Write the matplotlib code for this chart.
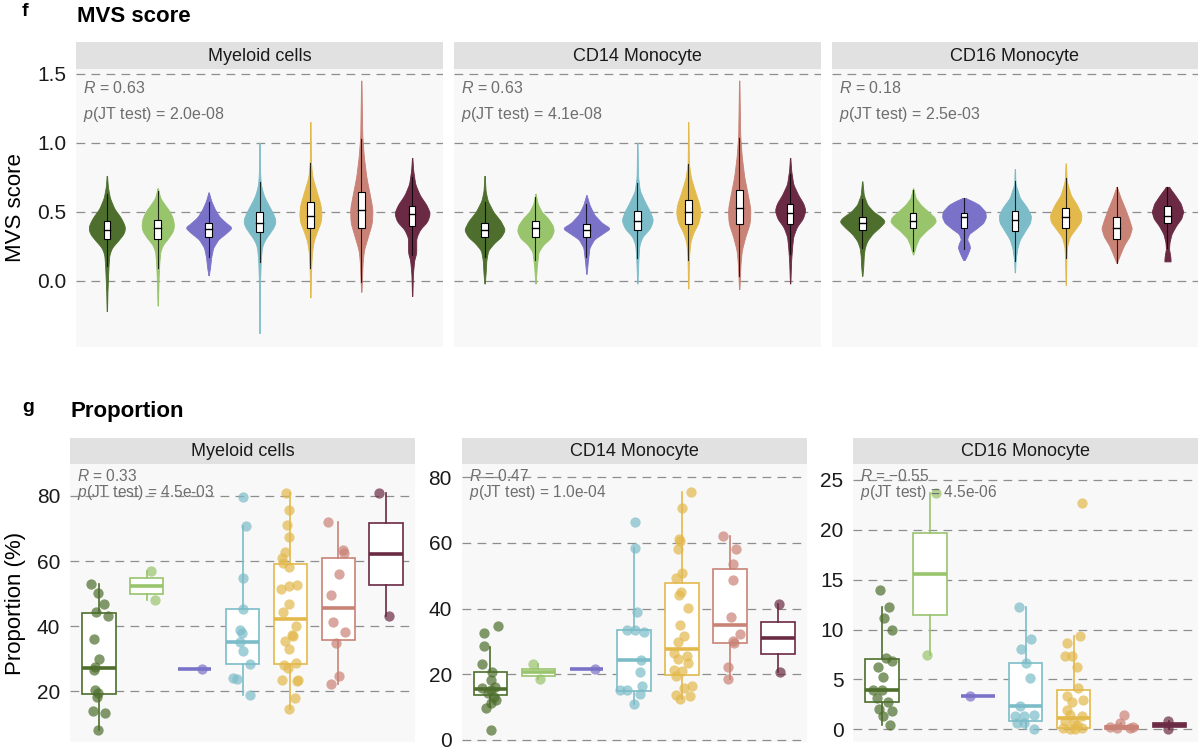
import numpy as np
import matplotlib
matplotlib.use("Agg")
import matplotlib.pyplot as plt
from matplotlib.patches import Rectangle

plt.rcParams['font.family'] = ['Liberation Sans', 'DejaVu Sans']
plt.rcParams['mathtext.fontset'] = 'custom'
plt.rcParams['mathtext.rm'] = 'Liberation Sans'
plt.rcParams['mathtext.it'] = 'Liberation Sans:italic'
plt.rcParams['mathtext.bf'] = 'Liberation Sans:bold'

# ---------------- data ----------------
panels = ["Myeloid cells", "CD14 Monocyte", "CD16 Monocyte"]
group_colors = ["#4d6e2c", "#98c46c", "#7a72c8", "#7bbcc8",
                "#e3b94c", "#c98276", "#6a2a43"]

# MVS score violins: (y, half width) knots per group
mvs_myeloid_knots = [
    [(0.76, .004), (0.68, .02), (0.60, .06), (0.52, .15), (0.46, .27), (0.41, .34), (0.38, .36),
     (0.34, .33), (0.29, .22), (0.24, .10), (0.19, .05), (0.12, .035), (0.04, .025), (-0.08, .012), (-0.22, .004)],
    [(0.67, .004), (0.60, .05), (0.55, .14), (0.50, .24), (0.45, .30), (0.40, .32), (0.36, .30),
     (0.31, .21), (0.26, .10), (0.21, .05), (0.12, .03), (0.02, .018), (-0.18, .004)],
    [(0.64, .004), (0.58, .05), (0.52, .12), (0.46, .22), (0.42, .34), (0.385, .46), (0.35, .36),
     (0.30, .19), (0.24, .09), (0.17, .05), (0.10, .03), (0.04, .005)],
    [(1.00, .004), (0.80, .01), (0.70, .025), (0.62, .08), (0.56, .16), (0.50, .25), (0.44, .32),
     (0.40, .30), (0.35, .21), (0.30, .11), (0.25, .05), (0.15, .025), (0.0, .012), (-0.38, .004)],
    [(1.15, .004), (0.85, .012), (0.75, .04), (0.65, .12), (0.55, .20), (0.48, .22), (0.42, .20),
     (0.35, .12), (0.28, .06), (0.20, .03), (0.10, .016), (-0.12, .004)],
    [(1.45, .004), (1.05, .02), (0.90, .05), (0.75, .10), (0.62, .17), (0.52, .22), (0.42, .21),
     (0.32, .13), (0.22, .05), (0.12, .025), (0.0, .014), (-0.08, .004)],
    [(0.89, .004), (0.80, .02), (0.70, .06), (0.62, .15), (0.55, .28), (0.49, .35), (0.43, .30),
     (0.37, .15), (0.31, .08), (0.25, .08), (0.20, .08), (0.15, .04), (0.05, .015), (-0.11, .004)],
]
mvs_cd14_knots = [
    [(0.76, .004), (0.65, .02), (0.58, .06), (0.50, .17), (0.43, .32), (0.37, .40), (0.32, .33),
     (0.27, .18), (0.22, .07), (0.15, .035), (0.05, .02), (-0.02, .004)],
    [(0.63, .004), (0.56, .04), (0.50, .12), (0.45, .25), (0.40, .34), (0.36, .36), (0.31, .30),
     (0.26, .15), (0.21, .06), (0.10, .025), (-0.02, .004)],
    [(0.62, .004), (0.55, .06), (0.48, .15), (0.42, .30), (0.38, .47), (0.35, .35), (0.30, .15),
     (0.24, .06), (0.15, .03), (0.05, .004)],
    [(1.00, .004), (0.75, .015), (0.65, .05), (0.57, .15), (0.50, .25), (0.44, .31), (0.38, .25),
     (0.32, .10), (0.26, .04), (0.15, .02), (-0.02, .004)],
    [(1.15, .004), (0.85, .012), (0.75, .05), (0.65, .13), (0.55, .22), (0.49, .24), (0.42, .20),
     (0.35, .10), (0.28, .04), (0.18, .016), (-0.055, .004)],
    [(1.45, .004), (1.05, .02), (0.90, .05), (0.75, .10), (0.62, .17), (0.52, .22), (0.42, .21),
     (0.32, .12), (0.22, .05), (0.12, .025), (0.0, .012), (-0.06, .004)],
    [(0.89, .004), (0.80, .02), (0.70, .06), (0.62, .16), (0.56, .26), (0.51, .30), (0.45, .25),
     (0.39, .13), (0.32, .06), (0.25, .04), (0.15, .02), (-0.02, .004)],
]
mvs_cd16_knots = [
    [(0.72, .004), (0.62, .03), (0.55, .10), (0.50, .22), (0.46, .38), (0.43, .45), (0.39, .35),
     (0.34, .20), (0.29, .10), (0.24, .05), (0.18, .03), (0.10, .02), (0.035, .004)],
    [(0.67, .004), (0.60, .05), (0.55, .15), (0.50, .30), (0.46, .42), (0.43, .45), (0.40, .38),
     (0.36, .25), (0.31, .12), (0.26, .06), (0.22, .03), (0.19, .004)],
    [(0.60, .02), (0.58, .15), (0.55, .30), (0.50, .42), (0.46, .43), (0.42, .38), (0.38, .25),
     (0.34, .10), (0.30, .06), (0.27, .10), (0.24, .12), (0.20, .08), (0.16, .03), (0.15, .01)],
    [(0.81, .004), (0.70, .012), (0.60, .10), (0.53, .24), (0.47, .32), (0.42, .30), (0.36, .20),
     (0.30, .10), (0.24, .05), (0.15, .015), (0.06, .004)],
    [(0.85, .004), (0.72, .02), (0.62, .10), (0.55, .22), (0.48, .31), (0.43, .30), (0.38, .20),
     (0.32, .08), (0.25, .025), (0.15, .012), (-0.03, .004)],
    [(0.68, .004), (0.60, .08), (0.52, .17), (0.45, .24), (0.38, .30), (0.32, .25), (0.26, .15),
     (0.20, .08), (0.13, .004)],
    [(0.68, .03), (0.62, .15), (0.56, .26), (0.50, .31), (0.45, .27), (0.40, .17), (0.34, .08),
     (0.28, .04), (0.23, .03), (0.19, .05), (0.16, .06), (0.14, .06)],
]
# (q1, median, q3) of the inner boxes
mvs_myeloid_box = [(0.30, 0.365, 0.43), (0.30, 0.38, 0.44), (0.32, 0.375, 0.42), (0.35, 0.42, 0.495),
                   (0.38, 0.47, 0.57), (0.38, 0.51, 0.64), (0.40, 0.48, 0.54)]
mvs_cd14_box = [(0.32, 0.37, 0.42), (0.32, 0.38, 0.435), (0.315, 0.365, 0.41), (0.37, 0.435, 0.505),
                (0.41, 0.495, 0.585), (0.41, 0.53, 0.66), (0.41, 0.49, 0.555)]
mvs_cd16_box = [(0.37, 0.42, 0.46), (0.38, 0.435, 0.49), (0.385, 0.46, 0.49), (0.36, 0.44, 0.505),
                (0.385, 0.46, 0.53), (0.30, 0.38, 0.46), (0.42, 0.47, 0.54)]
mvs_stats = [("0.63", "2.0e-08"), ("0.63", "4.1e-08"), ("0.18", "2.5e-03")]

# Proportion (%) per sample, with the jitter offsets seen in the figure
prop_myeloid = [
    [53.1, 50.1, 46.9, 44.4, 43.0, 36.2, 29.8, 27.6, 26.5, 20.3, 19.5, 18.3, 13.8, 13.2, 8.1],
    [56.9, 48.0],
    [26.7],
    [79.8, 70.8, 54.9, 45.4, 38.9, 38.0, 35.1, 32.4, 28.5, 24.2, 23.7, 18.8],
    [81.0, 75.7, 71.1, 67.3, 62.9, 60.8, 59.5, 58.3, 52.4, 52.8, 51.4, 46.8, 44.4, 40.1, 37.4, 37.0,
     35.4, 32.9, 28.7, 28.0, 27.3, 23.6, 23.4, 23.1, 18.0, 14.7],
    [71.9, 63.4, 62.4, 55.9, 49.7, 41.3, 38.2, 34.7, 24.6, 22.2],
    [81.0, 43.2],
]
jit_myeloid = [
    [-0.17, -0.02, 0.10, -0.06, 0.19, -0.10, 0.01, -0.08, -0.09, -0.08, -0.02, -0.04, -0.11, 0.13, -0.02],
    [0.08, 0.18],
    [0.15],
    [0.0, 0.08, 0.0, 0.0, -0.05, -0.01, -0.05, 0.0, 0.15, -0.19, -0.12, 0.16],
    [-0.10, -0.04, -0.08, -0.04, -0.11, -0.18, -0.15, -0.03, -0.04, 0.13, -0.20, -0.03, -0.15, 0.11,
     0.04, 0.06, -0.11, -0.04, 0.11, -0.13, -0.05, 0.15, -0.18, 0.13, 0.10, -0.04],
    [-0.21, 0.09, 0.11, 0.02, -0.15, -0.11, 0.14, -0.05, 0.02, -0.15],
    [-0.15, 0.05],
]
prop_cd14 = [
    [34.8, 32.5, 28.5, 23.0, 20.6, 18.3, 16.2, 15.7, 15.2, 14.2, 13.2, 12.2, 11.2, 9.8, 3.1],
    [23.0, 18.5],
    [21.5],
    [66.5, 58.6, 38.9, 33.5, 33.4, 32.8, 24.4, 20.7, 16.4, 15.2, 15.2, 14.0, 10.9],
    [75.4, 70.7, 61.1, 60.6, 58.2, 50.9, 49.2, 45.1, 44.1, 40.3, 35.0, 31.8, 29.7, 26.4, 25.7, 24.6,
     23.3, 21.3, 21.1, 19.5, 16.5, 15.7, 13.7, 13.5, 12.4],
    [62.1, 58.2, 53.5, 48.7, 37.5, 32.3, 30.2, 29.4, 22.3, 18.6],
    [41.4, 20.8],
]
jit_cd14 = [
    [0.15, -0.13, -0.14, -0.17, 0.04, 0.01, 0.09, -0.17, 0.01, -0.06, 0.08, 0.11, 0.01, -0.09, 0.01],
    [-0.12, 0.03],
    [0.18],
    [0.02, 0.01, 0.05, 0.01, -0.15, 0.21, 0.14, 0.13, 0.17, -0.30, -0.14, 0.12, 0.0],
    [0.18, -0.01, -0.06, -0.04, -0.08, -0.01, -0.13, -0.03, -0.06, 0.13, -0.04, 0.03, -0.08, -0.17,
     0.10, -0.08, 0.13, -0.17, -0.01, -0.12, 0.20, 0.03, -0.12, 0.16, -0.04],
    [-0.14, 0.12, 0.06, 0.07, 0.02, 0.20, 0.06, 0.09, -0.05, -0.04],
    [0.03, 0.05],
]
prop_cd16 = [
    [14.0, 12.3, 11.2, 10.0, 7.2, 6.9, 6.2, 5.2, 3.9, 3.9, 3.1, 2.7, 2.0, 1.8, 1.3, 0.4],
    [23.7, 7.5],
    [3.3],
    [12.3, 9.1, 8.1, 6.6, 5.1, 2.3, 1.4, 1.3, 1.3, 0.6, 0.6, 0.0],
    [22.7, 9.4, 8.7, 7.4, 7.4, 6.2, 4.1, 3.3, 2.9, 2.7, 1.9, 1.4, 1.3, 0.8, 0.7, 0.4, 0.1, 0.05, 0.1, 0.0],
    [1.4, 0.6, 0.2, 0.1, 0.1, 0.2],
    [0.8, 0.0],
]
jit_cd16 = [
    [-0.05, 0.14, 0.05, 0.21, 0.09, 0.21, -0.08, 0.03, -0.18, 0.0, -0.10, 0.13, -0.07, 0.21, 0.01, 0.16],
    [0.13, -0.06],
    [-0.17],
    [-0.13, 0.12, -0.10, 0.01, 0.10, -0.11, 0.18, -0.04, -0.22, -0.04, -0.18, 0.18],
    [0.18, 0.14, -0.13, -0.17, -0.03, 0.07, 0.10, -0.13, 0.19, -0.03, -0.14, -0.07, 0.18, -0.17, 0.0,
     0.08, -0.21, -0.07, 0.18, 0.04],
    [0.06, -0.03, -0.23, 0.18, -0.09, 0.25],
    [-0.02, -0.02],
]
# box stats (whisker low, q1, median, q3, whisker high)
box_myeloid = [(8.1, 19.1, 27.2, 44.1, 53.1), (48.0, 49.9, 52.3, 54.7, 56.9), (26.7, 26.7, 26.7, 26.7, 26.7),
               (18.8, 28.5, 35.0, 45.4, 70.8), (14.7, 28.3, 42.2, 59.1, 81.0), (22.2, 35.7, 45.6, 60.8, 71.9),
               (43.2, 52.6, 62.1, 71.6, 81.0)]
box_cd14 = [(9.9, 13.6, 15.5, 20.6, 28.4), (18.5, 19.6, 20.8, 21.7, 23.0), (21.5, 21.5, 21.5, 21.5, 21.5),
            (10.9, 14.9, 24.4, 33.5, 58.6), (12.4, 19.8, 27.7, 47.9, 75.4), (18.6, 29.6, 35.0, 52.1, 62.1),
            (20.8, 26.1, 31.1, 36.0, 41.4)]
box_cd16 = [(0.4, 2.7, 3.9, 7.1, 12.3), (7.5, 11.5, 15.6, 19.7, 23.7), (3.3, 3.3, 3.3, 3.3, 3.3),
            (0.0, 0.8, 2.3, 6.6, 12.3), (0.0, 0.1, 1.1, 3.9, 9.4), (0.0, 0.05, 0.2, 0.35, 0.6),
            (0.0, 0.2, 0.4, 0.6, 0.8)]
prop_stats = [("0.33", "4.5e-03"), ("0.47", "1.0e-04"), ("\u22120.55", "4.5e-06")]

# ---------------- layout helpers ----------------
W, H = 1200, 752
fig = plt.figure(figsize=(W / 100, H / 100), dpi=100)
grid_kw = dict(color="#8e8e8e", linestyle=(0, (7, 5)), linewidth=0.9)
note_color = "#6e6e6e"


def px_axes(x0, y0, x1, y1):
    return fig.add_axes([x0 / W, 1 - y1 / H, (x1 - x0) / W, (y1 - y0) / H])


def strip(x0, x1, y0, y1, label):
    s = px_axes(x0, y0, x1, y1)
    s.set_facecolor("#e1e1e1")
    s.set_xticks([])
    s.set_yticks([])
    for sp in s.spines.values():
        sp.set_visible(False)
    s.text(0.5, 0.47, label, ha="center", va="center", fontsize=13, color="#1a1a1a",
           transform=s.transAxes)


def base_panel(x0, x1, y0, y1, ylim, yticks, ylabels):
    ax = px_axes(x0, y0, x1, y1)
    ax.set_facecolor("#f8f8f8")
    for sp in ax.spines.values():
        sp.set_visible(False)
    ax.set_xlim(0.4, 7.6)
    ax.set_ylim(*ylim)
    ax.set_xticks([])
    ax.set_yticks(yticks)
    ax.set_yticklabels(ylabels)
    ax.tick_params(axis="y", length=0, pad=7, labelsize=15, labelcolor="#1a1a1a")
    for t in yticks:
        ax.axhline(t, zorder=0.5, **grid_kw)
    return ax


def notes(ax, r, p, dy1, dy2, size):
    ax.annotate(r"$R$ = " + r, xy=(0, 1), xycoords="axes fraction", xytext=(7, -dy1),
                textcoords="offset pixels", va="center", ha="left", fontsize=size,
                color=note_color, zorder=5)
    ax.annotate(r"$p$(JT test) = " + p, xy=(0, 1), xycoords="axes fraction", xytext=(7, -dy2),
                textcoords="offset pixels", va="center", ha="left", fontsize=size,
                color=note_color, zorder=5)


def violin(ax, pos, knots, box, color):
    k = np.array(sorted(knots))
    ys = np.linspace(k[0, 0], k[-1, 0], 300)
    ws = np.interp(ys, k[:, 0], k[:, 1])
    pad = np.pad(ws, 6, mode="edge")
    ws = np.convolve(pad, np.ones(13) / 13, mode="valid")
    ax.fill_betweenx(ys, pos - ws, pos + ws, color=color, lw=0.6, zorder=2)
    q1, med, q3 = box
    iqr = q3 - q1
    lo = max(k[0, 0], q1 - 1.5 * iqr)
    hi = min(k[-1, 0], q3 + 1.5 * iqr)
    ax.plot([pos, pos], [lo, hi], color="black", lw=0.8, alpha=0.8, zorder=3)
    bw = 0.13
    ax.add_patch(Rectangle((pos - bw / 2, q1), bw, q3 - q1, facecolor="white",
                           edgecolor="black", lw=0.8, zorder=4))
    ax.plot([pos - bw / 2, pos + bw / 2], [med, med], color="black", lw=1.0, zorder=5)


def boxes(ax, stats, values, jitter):
    for i, (st, vals, jit, c) in enumerate(zip(stats, values, jitter, group_colors)):
        pos = i + 1
        lo, q1, med, q3, hi = st
        ax.bxp([dict(whislo=lo, q1=q1, med=med, q3=q3, whishi=hi, fliers=[])],
               positions=[pos], widths=0.7, patch_artist=True, showfliers=False,
               showcaps=False,
               boxprops=dict(facecolor="white", edgecolor=c, linewidth=1.2),
               whiskerprops=dict(color=c, linewidth=1.2),
               medianprops=dict(color=c, linewidth=2.6, solid_capstyle="butt"),
               zorder=2)
        ax.scatter(pos + np.array(jit), vals, s=55, color=c, alpha=0.7, lw=0, zorder=3)


# ---------------- f: MVS score ----------------
fig.text(22 / W, 1 - 12 / H, "f", fontsize=14, fontweight="bold", va="center")
fig.text(77 / W, 1 - 17 / H, "MVS score", fontsize=16, fontweight="bold", va="center")
fig.text(16 / W, 1 - 208 / H, "MVS score", fontsize=16, rotation=90, ha="center", va="center")

top_x = [(76.3, 442.7), (454, 820.7), (831.7, 1198)]
mvs_knots = [mvs_myeloid_knots, mvs_cd14_knots, mvs_cd16_knots]
mvs_boxes = [mvs_myeloid_box, mvs_cd14_box, mvs_cd16_box]
for j, (x0, x1) in enumerate(top_x):
    strip(x0, x1, 42.3, 69, panels[j])
    labels = ["0.0", "0.5", "1.0", "1.5"] if j == 0 else ["", "", "", ""]
    ax = base_panel(x0, x1, 69, 346.7, (-0.478, 1.534), [0.0, 0.5, 1.0, 1.5], labels)
    for i in range(7):
        violin(ax, i + 1, mvs_knots[j][i], mvs_boxes[j][i], group_colors[i])
    notes(ax, mvs_stats[j][0], mvs_stats[j][1], 19, 45, 11.5)

# ---------------- g: Proportion ----------------
fig.text(22 / W, 1 - 407 / H, "g", fontsize=14, fontweight="bold", va="center")
fig.text(71 / W, 1 - 412 / H, "Proportion", fontsize=16, fontweight="bold", va="center")
fig.text(16 / W, 1 - 603 / H, "Proportion (%)", fontsize=16, rotation=90, ha="center", va="center")

bot_x = [(70, 415), (461.7, 806.7), (853.3, 1198)]
bot_ylim = [(4.42, 89.83), (-0.61, 84.05), (-1.27, 26.6)]
bot_ticks = [[20, 40, 60, 80], [0, 20, 40, 60, 80], [0, 5, 10, 15, 20, 25]]
prop_values = [prop_myeloid, prop_cd14, prop_cd16]
prop_jitter = [jit_myeloid, jit_cd14, jit_cd16]
prop_boxes = [box_myeloid, box_cd14, box_cd16]
for j, (x0, x1) in enumerate(bot_x):
    strip(x0, x1, 437.7, 464, panels[j])
    ax = base_panel(x0, x1, 464, 742, bot_ylim[j], bot_ticks[j], [str(t) for t in bot_ticks[j]])
    boxes(ax, prop_boxes[j], prop_values[j], prop_jitter[j])
    ax.set_xlim(0.4, 7.6)
    ax.set_xticks([])
    notes(ax, prop_stats[j][0], prop_stats[j][1], 12, 28.5, 11.2)

fig.savefig("out.png", dpi=100, facecolor="white")
